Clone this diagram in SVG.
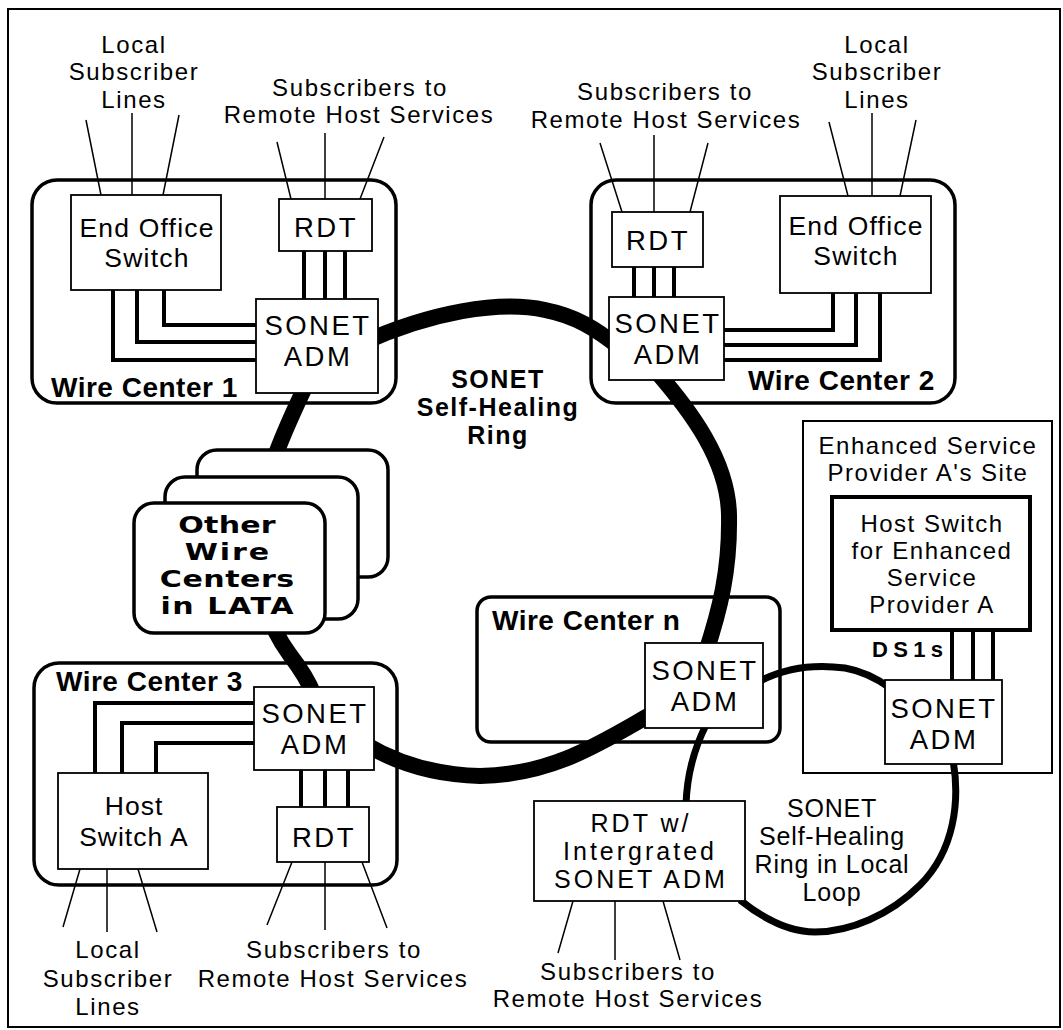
<svg xmlns="http://www.w3.org/2000/svg" width="1063" height="1030" viewBox="0 0 1063 1030">
  <style>
    text { font-family: "Liberation Sans", Arial, sans-serif; fill: #000; text-anchor: middle; }
    .lbl { font-size: 24px; letter-spacing: 1.6px; }
    .box-t { font-size: 27.5px; letter-spacing: 2.5px; }
    .sw { font-size: 26.5px; letter-spacing: 1.2px; }
    .rdtw { font-size: 25px; letter-spacing: 3px; }
    .esp { font-size: 24px; letter-spacing: 1.5px; }
    .host { font-size: 26.5px; letter-spacing: 1px; }
    .loopt { font-size: 25px; letter-spacing: 0.8px; }
    .ringt { font-weight: bold; font-size: 25px; letter-spacing: 1.5px; }
    .wcl { font-weight: bold; font-size: 28px; letter-spacing: 0.5px; text-anchor: start; }
    .ds1 { font-weight: bold; font-size: 22px; text-anchor: start; }
    .wide { font-family: "DejaVu Sans", "Liberation Sans", sans-serif; font-weight: bold; font-size: 23.5px; }
    .box { fill: #fff; stroke: #000; stroke-width: 1.8; }
    .hostbox { fill: #fff; stroke: #000; stroke-width: 4; }
    .wc { fill: none; stroke: #000; stroke-width: 3.5; }
    .stack { fill: #fff; stroke: #000; stroke-width: 3.5; }
    .site { fill: none; stroke: #000; stroke-width: 2; }
    .ring { fill: none; stroke: #000; stroke-width: 16; }
    .loop { fill: none; stroke: #000; stroke-width: 7; }
    .trunk { fill: none; stroke: #000; stroke-width: 4; }
    .sub { fill: none; stroke: #000; stroke-width: 1.5; }
  </style>

  <!-- frame -->
  <rect x="8" y="9" width="1052" height="1018" fill="#fff" stroke="#000" stroke-width="2"/>

  <!-- site containers -->
  <g id="wire-center-1-frame"><rect class="wc" x="32" y="180" width="364" height="223" rx="25"/></g>
  <g id="wire-center-2-frame"><rect class="wc" x="591" y="180" width="364" height="223" rx="25"/></g>
  <g id="wire-center-3-frame"><rect class="wc" x="34" y="663" width="363" height="222" rx="25"/></g>
  <g id="wire-center-n-frame"><rect class="wc" x="477" y="597" width="303" height="145" rx="14"/></g>
  <g id="esp-site-frame"><rect class="site" x="803" y="421" width="249" height="352"/></g>

  <!-- connectors -->
  <g id="connectors">
    <!-- main SONET self-healing ring -->
    <path class="ring" d="M 360 344 C 430 312, 500 300, 545 310 C 575 316, 595 328, 620 348"/>
    <path class="ring" d="M 655 370 C 690 410, 728 460, 729 515 C 730 570, 720 610, 705 655"/>
    <path class="ring" d="M 365 744 C 400 765, 440 775, 480 776 C 555 775, 605 740, 655 712"/>
    <path class="ring" d="M 306 385 C 285 430, 260 480, 258 540 C 256 590, 268 625, 290 655 C 300 668, 308 680, 314 695"/>

    <!-- local loop ring -->
    <path class="loop" d="M 760 681 C 785 668, 815 664, 845 668 C 862 671, 875 677, 890 688"/>
    <path class="loop" d="M 953 760 C 960 800, 955 850, 920 885 C 890 915, 850 932, 815 932 C 790 932, 765 920, 740 900"/>
    <path class="loop" d="M 706 725 C 696 745, 687 770, 686 805"/>

    <!-- wire center 1 trunks -->
    <path class="trunk" d="M 164 290 V 325 H 256"/>
    <path class="trunk" d="M 137 290 V 342 H 256"/>
    <path class="trunk" d="M 113 290 V 360 H 256"/>
    <path class="trunk" d="M 304 251 V 299 M 325 251 V 299 M 345 251 V 299"/>

    <!-- wire center 2 trunks -->
    <path class="trunk" d="M 833 293 V 330 H 724"/>
    <path class="trunk" d="M 856 293 V 345 H 724"/>
    <path class="trunk" d="M 880 293 V 360 H 724" stroke-width="3"/>
    <path class="trunk" d="M 634 267 V 297 M 654 267 V 297 M 674 267 V 297"/>

    <!-- wire center 3 trunks -->
    <path class="trunk" d="M 95 773 V 703 H 254"/>
    <path class="trunk" d="M 122 773 V 723 H 254"/>
    <path class="trunk" d="M 156 773 V 743 H 254"/>
    <path class="trunk" d="M 301 770 V 807 M 325 770 V 807 M 348 770 V 807"/>

    <!-- DS1s to enhanced service host -->
    <path class="trunk" d="M 952 630 V 680 M 973 630 V 680 M 993 630 V 680"/>

    <!-- subscriber lines -->
    <path class="sub" d="M 86 120 L 101 195 M 132 113 L 132 195 M 179 115 L 163 195"/>
    <path class="sub" d="M 277 142 L 291 199 M 325 133 L 325 199 M 384 137 L 360 199"/>
    <path class="sub" d="M 600 143 L 622 212 M 654 135 L 654 212 M 708 143 L 690 212"/>
    <path class="sub" d="M 829 122 L 848 196 M 872 113 L 872 196 M 916 120 L 900 196"/>
    <path class="sub" d="M 80 869 L 63 927 M 107 869 L 107 932 M 138 869 L 157 932"/>
    <path class="sub" d="M 292 862 L 267 925 M 325 862 L 325 930 M 362 862 L 387 928"/>
    <path class="sub" d="M 573 901 L 558 953 M 615 901 L 615 960 M 663 901 L 680 960"/>
  </g>

  <!-- free labels -->
  <g id="labels">
    <text class="lbl" x="134" y="53">Local</text>
    <text class="lbl" x="134" y="80">Subscriber</text>
    <text class="lbl" x="134" y="108">Lines</text>
    <text class="lbl" x="360" y="96">Subscribers to</text>
    <text class="lbl" x="359" y="123">Remote Host Services</text>

    <text class="lbl" x="665" y="100">Subscribers to</text>
    <text class="lbl" x="666" y="128">Remote Host Services</text>
    <text class="lbl" x="877" y="53">Local</text>
    <text class="lbl" x="877" y="80">Subscriber</text>
    <text class="lbl" x="877" y="108">Lines</text>

    <text class="lbl" x="108" y="958">Local</text>
    <text class="lbl" x="108" y="987">Subscriber</text>
    <text class="lbl" x="108" y="1015">Lines</text>
    <text class="lbl" x="334" y="958">Subscribers to</text>
    <text class="lbl" x="333" y="987">Remote Host Services</text>

    <text class="lbl" x="628" y="980">Subscribers to</text>
    <text class="lbl" x="628" y="1007">Remote Host Services</text>

    <text class="ringt" x="498" y="388">SONET</text>
    <text class="ringt" x="498" y="416">Self-Healing</text>
    <text class="ringt" x="498" y="444">Ring</text>

    <text class="loopt" x="832" y="817">SONET</text>
    <text class="loopt" x="832" y="845">Self-Healing</text>
    <text class="loopt" x="832" y="873">Ring in Local</text>
    <text class="loopt" x="832" y="901">Loop</text>

    <text class="wcl" x="51" y="397">Wire Center 1</text>
    <text class="wcl" x="748" y="390">Wire Center 2</text>
    <text class="wcl" x="56" y="691">Wire Center 3</text>
    <text class="wcl" x="492" y="630">Wire Center n</text>

    <text class="esp" x="928" y="454">Enhanced Service</text>
    <text class="esp" x="928" y="481">Provider A's Site</text>
    <text class="ds1" x="872" y="657" textLength="71" lengthAdjust="spacing">DS1s</text>
  </g>

  <!-- wire center 1 -->
  <g id="wc1-end-office">
    <rect class="box" x="71" y="195" width="150" height="95"/>
    <text class="sw" x="147" y="237">End Office</text>
    <text class="sw" x="147" y="267">Switch</text>
  </g>
  <g id="wc1-rdt">
    <rect class="box" x="279" y="199" width="93" height="52"/>
    <text class="box-t" x="326" y="237">RDT</text>
  </g>
  <g id="wc1-adm">
    <rect class="box" x="256" y="299" width="122" height="94"/>
    <text class="box-t" x="318" y="335">SONET</text>
    <text class="box-t" x="318" y="366">ADM</text>
  </g>

  <!-- wire center 2 -->
  <g id="wc2-rdt">
    <rect class="box" x="612" y="212" width="91" height="55"/>
    <text class="box-t" x="658" y="250">RDT</text>
  </g>
  <g id="wc2-adm">
    <rect class="box" x="609" y="297" width="115" height="83"/>
    <text class="box-t" x="668" y="333">SONET</text>
    <text class="box-t" x="668" y="364">ADM</text>
  </g>
  <g id="wc2-end-office">
    <rect class="box" x="780" y="196" width="151" height="97"/>
    <text class="sw" x="856" y="235">End Office</text>
    <text class="sw" x="856" y="265">Switch</text>
  </g>

  <!-- other wire centers in the LATA: stacked cards, extended bold lettering -->
  <g id="other-wire-centers">
    <rect class="stack" x="197" y="450" width="191" height="127" rx="20"/>
    <rect class="stack" x="165" y="477" width="193" height="142" rx="20"/>
    <rect class="stack" x="134" y="503" width="191" height="130" rx="20"/>
    <g transform="translate(227 0) scale(1.28 1)">
      <text class="wide" x="0" y="533" textLength="76" lengthAdjust="spacing">Other</text>
      <text class="wide" x="0" y="560" textLength="66" lengthAdjust="spacing">Wire</text>
      <text class="wide" x="0" y="587" textLength="105" lengthAdjust="spacing">Centers</text>
      <text class="wide" x="0" y="614" textLength="104" lengthAdjust="spacing">in LATA</text>
    </g>
  </g>

  <!-- wire center 3 -->
  <g id="wc3-adm">
    <rect class="box" x="254" y="687" width="120" height="83"/>
    <text class="box-t" x="315" y="723">SONET</text>
    <text class="box-t" x="315" y="754">ADM</text>
  </g>
  <g id="wc3-host-switch">
    <rect class="box" x="58" y="773" width="150" height="96"/>
    <text class="host" x="134" y="815">Host</text>
    <text class="host" x="134" y="846">Switch A</text>
  </g>
  <g id="wc3-rdt">
    <rect class="box" x="277" y="807" width="92" height="55"/>
    <text class="box-t" x="324" y="847">RDT</text>
  </g>

  <!-- wire center n -->
  <g id="wcn-adm">
    <rect class="box" x="645" y="643" width="118" height="85"/>
    <text class="box-t" x="705" y="680">SONET</text>
    <text class="box-t" x="705" y="711">ADM</text>
  </g>

  <!-- remote terminal with integrated ADM -->
  <g id="rdt-integrated">
    <rect class="box" x="534" y="801" width="211" height="100"/>
    <text class="rdtw" x="641" y="832">RDT w/</text>
    <text class="rdtw" x="640" y="860">Intergrated</text>
    <text class="rdtw" x="641" y="888">SONET ADM</text>
  </g>

  <!-- enhanced service provider site -->
  <g id="esp-host-switch">
    <rect class="hostbox" x="832" y="497" width="198" height="133"/>
    <text class="esp" x="932" y="532">Host Switch</text>
    <text class="esp" x="932" y="559">for Enhanced</text>
    <text class="esp" x="932" y="586">Service</text>
    <text class="esp" x="932" y="613">Provider A</text>
  </g>
  <g id="esp-adm">
    <rect class="box" x="885" y="680" width="117" height="84"/>
    <text class="box-t" x="944" y="718">SONET</text>
    <text class="box-t" x="944" y="749">ADM</text>
  </g>
</svg>
